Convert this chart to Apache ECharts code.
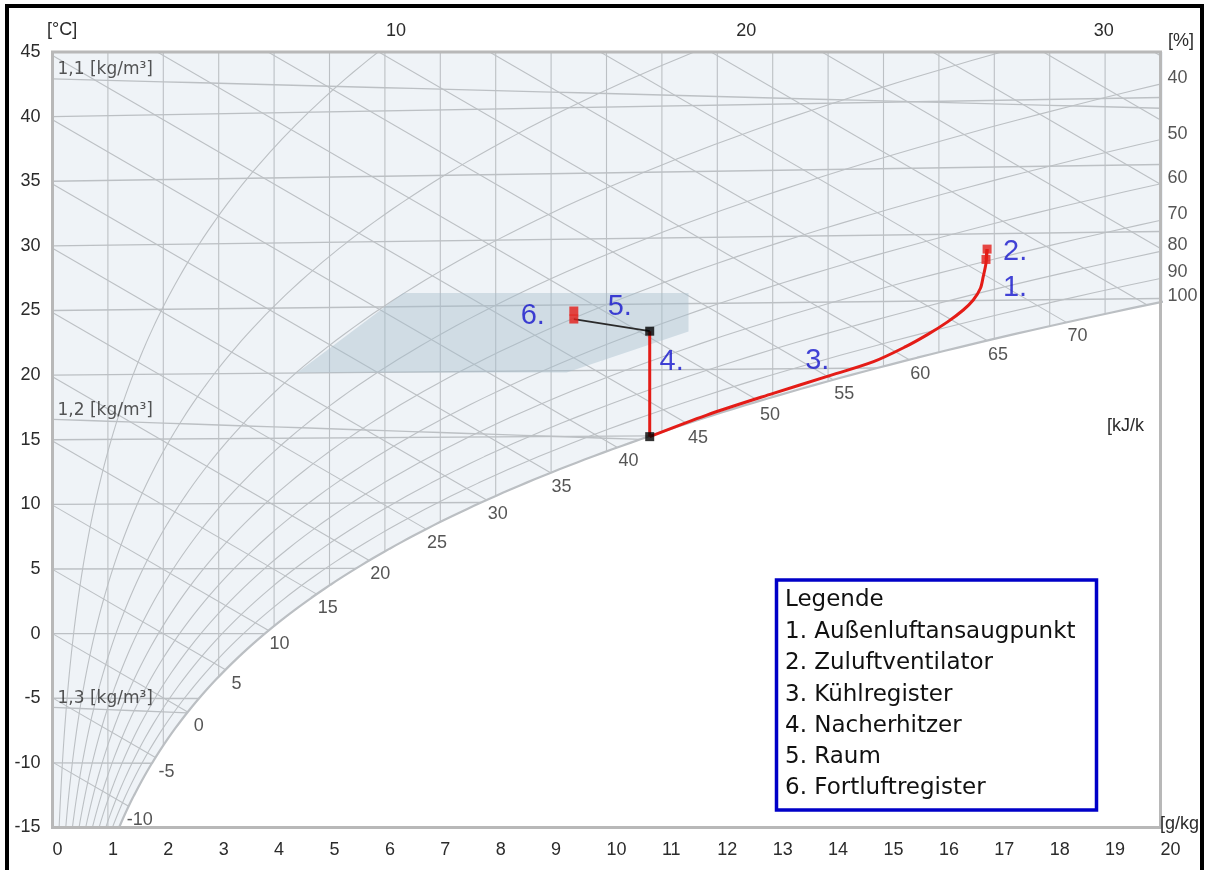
<!DOCTYPE html>
<html><head><meta charset="utf-8">
<script src="https://cdn.jsdelivr.net/npm/echarts@6/dist/echarts.min.js"></script>
<style>html,body{margin:0;padding:0;background:#fff}#c{width:1207px;height:870px}</style>
</head><body><div id="c"></div>
<script>
// ---------------- data ----------------
const pressureTicks   = [10, 20, 30];                       // top axis: vapour pressure [hPa]
const rhLevels        = [10, 20, 30, 40, 50, 60, 70, 80, 90]; // relative humidity lines [%]
const rhLabels        = [40, 50, 60, 70, 80, 90, 100];      // labels on the right edge [%]
const isotherms       = [-15, -10, -5, 0, 5, 10, 15, 20, 25, 30, 35, 40, 45];   // [°C]
const enthalpyLines   = [-10, -5, 0, 5, 10, 15, 20, 25, 30, 35, 40, 45, 50, 55, 60, 65, 70, 75, 80, 85, 90, 95];
const enthalpyLabels  = [-10, -5, 0, 5, 10, 15, 20, 25, 30, 35, 40, 45, 50, 55, 60, 65, 70]; // [kJ/kg]
const densityLines    = [1.1, 1.2, 1.3];                    // [kg/m³]
const densityLabels   = ['1,1 [kg/m³]', '1,2 [kg/m³]', '1,3 [kg/m³]'];
const moistureLines   = [1, 2, 3, 4, 5, 6, 7, 8, 9, 10, 11, 12, 13, 14, 15, 16, 17, 18, 19]; // [g/kg]

// comfort zone (x g/kg, chart temperature °C)
const comfortZone = [[4.42, 20.2], [6.33, 26.35], [11.48, 26.35], [11.48, 23.37], [9.28, 20.2]];

// process states: 1 Außenluft, 2 nach Zuluftventilator, 3 nach Kühlregister, 4 nach Nacherhitzer, 5 Raum, 6 Fortluft
const statePoints = [[16.85, 28.95], [16.87, 29.75], [10.78, 15.24], [10.78, 23.4], [9.41, 24.34], [9.41, 24.96]];
const stateNames  = ['1.', '2.', '3.', '4.', '5.', '6.'];
const coolingCurve = [
  [16.87, 29.75], [16.85, 28.65], [16.80, 27.62], [16.75, 26.72], [16.62, 25.81], [16.44, 25.04],
  [16.15, 24.10], [15.80, 23.15], [15.40, 22.20], [14.82, 21.04], [13.97, 19.88], [13.01, 18.59],
  [11.81, 16.91], [10.78, 15.24]
];
const legendTitle = 'Legende';
const legendItems = ['1. Außenluftansaugpunkt', '2. Zuluftventilator', '3. Kühlregister',
                     '4. Nacherhitzer', '5. Raum', '6. Fortluftregister'];

// ---------------- psychrometric helpers ----------------
const P = 998;          // hPa, chart pressure
const P_TOP = 1013.25;  // hPa, used for the top vapour-pressure scale
const ps = t => 6.112 * Math.exp(17.62 * t / (243.12 + t));
const tDew = pv => { const L = Math.log(pv / 6.112); return 243.12 * L / (17.62 - L); };
const xOf = pv => 622 * pv / (P - pv);
const mY = (t, xg) => t * (1.006 + 0.00186 * xg) / 1.006;
const ySat = xg => { const pv = P * xg / (622 + xg); return mY(tDew(pv), xg); };
function cross(f, a, b) { for (let i = 0; i < 60; i++) { const m = (a + b) / 2; if (f(m) > 0) a = m; else b = m; } return (a + b) / 2; }
function endOnSat(YL) { const f = x => YL(x) - ySat(x); return f(20) > 0 ? 20 : cross(f, 1e-3, 20); }
const yRho = (rho, xg) => { const x = xg / 1000; const T = P * 100 * (1 + x) / (287.05 * rho * (1 + 1.6078 * x)); return mY(T - 273.15, xg); };

const GRID_COLOR = '#bcc0c4';
const series = [];
function gridLine(data, width) {
  series.push({ type: 'line', data, showSymbol: false, symbol: 'none', silent: true, clip: true, z: 2,
    lineStyle: { color: GRID_COLOR, width: width || 1.1 } });
}

// saturation fill (area above the saturation curve)
const satData = [];
for (let t = -60; t <= 40; t += 0.25) { const xg = xOf(ps(t)); satData.push([xg, mY(t, xg)]); if (xg > 21) break; }
series.push({ type: 'line', data: satData, showSymbol: false, symbol: 'none', silent: true, clip: true, z: 1,
  lineStyle: { color: '#bbbfc3', width: 2.2 }, areaStyle: { origin: 'end', color: '#eff3f7', opacity: 1 } });

// constant moisture lines
moistureLines.forEach(xg => gridLine([[xg, ySat(xg)], [xg, 45]]));
// isotherms
isotherms.forEach(t => { const e = Math.min(20, xOf(ps(t))); gridLine([[0, t], [e, mY(t, e)]], 1.4); });
// enthalpy lines
const hLabelData = [];
enthalpyLines.forEach(h => {
  const YL = x => (h - 2.501 * x) / 1.006;
  const e = endOnSat(YL);
  gridLine([[0, YL(0)], [e, YL(e)]]);
  if (enthalpyLabels.includes(h)) hLabelData.push({ name: String(h), value: [e, YL(e)] });
});
// density lines
const rhoLabelData = [];
densityLines.forEach((rho, i) => {
  const YL = x => yRho(rho, x);
  const e = endOnSat(YL);
  const d = [];
  for (let x = 0; x < e; x += 0.5) d.push([x, YL(x)]);
  d.push([e, YL(e)]);
  gridLine(d, 1.4);
  rhoLabelData.push({ name: densityLabels[i], value: [0, YL(0)] });
});
// relative humidity lines
rhLevels.forEach(r => {
  const phi = r / 100, d = [];
  for (let t = -40; t <= 60; t += 0.5) {
    const xg = xOf(phi * ps(t)); const Y = mY(t, xg); d.push([xg, Y]);
    if (xg > 21 || Y > 47) break;
  }
  gridLine(d);
});
// RH labels at the right edge
const rhLabelData = rhLabels.map(r => {
  const pv = P * 20 / 642; const t = tDew(pv / (r / 100));
  return { name: String(r), value: [20, mY(t, 20)] };
});

// comfort zone
series.push({ type: 'custom', silent: true, z: 3, clip: true, data: [comfortZone[0]],
  renderItem: (params, api) => ({ type: 'polygon', shape: { points: comfortZone.map(p => api.coord(p)) },
    style: { fill: 'rgba(165,188,202,0.42)', stroke: null } }) });

// label series for the grid
const numFont = '"Liberation Sans", Arial, sans-serif';
series.push({ type: 'scatter', data: hLabelData, symbolSize: 0, silent: true, clip: false, z: 4,
  label: { show: true, position: 'inside', offset: [11, 14], formatter: '{b}', fontSize: 18, color: '#2b2b2b', fontFamily: numFont } });
series.push({ type: 'scatter', data: rhoLabelData, symbolSize: 0, silent: true, clip: false, z: 4,
  label: { show: true, position: 'right', distance: 5, offset: [0, -9], formatter: '{b}', fontSize: 17, color: '#2b2b2b', fontFamily: '"DejaVu Sans", sans-serif' } });
series.push({ type: 'scatter', data: rhLabelData, symbolSize: 0, silent: true, clip: false, z: 4,
  label: { show: true, position: 'right', distance: 7, offset: [0, -6], formatter: '{b}', fontSize: 18, color: '#2b2b2b', fontFamily: numFont } });

// process lines
const RED = '#e41c17';
series.push({ type: 'line', data: [statePoints[0], statePoints[1]], symbol: 'none', z: 5, lineStyle: { color: RED, width: 3 } });
series.push({ type: 'line', data: coolingCurve, symbol: 'none', smooth: 0.3, z: 5, lineStyle: { color: RED, width: 3 } });
series.push({ type: 'line', data: [statePoints[2], statePoints[3]], symbol: 'none', z: 5, lineStyle: { color: RED, width: 3 } });
series.push({ type: 'line', data: [statePoints[3], statePoints[4]], symbol: 'none', z: 5, lineStyle: { color: '#2a2a2a', width: 1.8 } });
// markers
const markerColors = [RED, RED, '#000', '#000', RED, RED];
series.push({ type: 'scatter', symbol: 'rect', symbolSize: 9, z: 6, clip: false,
  data: statePoints.map((p, i) => ({ value: p, itemStyle: { color: markerColors[i] } })) });
// blue state labels (offsets in px)
const labelAnchors = [statePoints[0], statePoints[1], coolingCurve[11], statePoints[3], statePoints[4], statePoints[5]];
const labelOffsets = [[29, 29], [28, 3], [44, -32], [22, 31], [46, -12], [-41, 5]];
series.push({ type: 'scatter', symbolSize: 0, silent: true, clip: false, z: 7,
  data: labelAnchors.map((p, i) => ({ name: stateNames[i], value: p, label: { offset: labelOffsets[i] } })),
  label: { show: true, position: 'inside', formatter: '{b}', fontSize: 29, color: '#1414cc', fontFamily: numFont } });

// ---------------- graphics: units, legend box, frame ----------------
const unitFont = '18px "Liberation Sans", Arial, sans-serif';
const graphic = [
  { type: 'text', x: 47, y: 30, z: 50, style: { text: '[°C]', font: unitFont, fill: '#2b2b2b', verticalAlign: 'middle' } },
  { type: 'text', x: 1168, y: 41, z: 50, style: { text: '[%]', font: unitFont, fill: '#2b2b2b', verticalAlign: 'middle' } },
  { type: 'text', x: 1107, y: 426, z: 50, style: { text: '[kJ/k', font: unitFont, fill: '#2b2b2b', verticalAlign: 'middle' } },
  { type: 'text', x: 1160, y: 824, z: 50, style: { text: '[g/kg', font: unitFont, fill: '#2b2b2b', verticalAlign: 'middle' } },
  { type: 'rect', z: 60, shape: { x: 776.5, y: 580, width: 320, height: 230 }, style: { fill: '#fff', stroke: '#0000c8', lineWidth: 3.5 } },
  { type: 'text', x: 785, y: 600, z: 61, style: { text: legendTitle, font: '23px "DejaVu Sans", sans-serif', fill: '#111', verticalAlign: 'middle' } }
];
legendItems.forEach((s, i) => graphic.push({ type: 'text', x: 785, y: 632 + i * 31.3, z: 61,
  style: { text: s, font: '23px "DejaVu Sans", sans-serif', fill: '#111', verticalAlign: 'middle' } }));
graphic.push({ type: 'rect', z: 100, shape: { x: 7, y: 6, width: 1195, height: 880 }, style: { fill: 'none', stroke: '#000', lineWidth: 4 } });

const xForPv = pv => 622 * pv / (P_TOP - pv);
const option = {
  animation: false,
  backgroundColor: '#fff',
  grid: { left: 52.5, top: 52, right: 46.5, bottom: 42.5, show: true, z: 20, backgroundColor: 'rgba(0,0,0,0)',
          borderColor: '#b8b8b8', borderWidth: 3, containLabel: false, outerBoundsMode: 'none' },
  xAxis: [
    { type: 'value', min: 0, max: 20, interval: 1, position: 'bottom', axisLine: { show: false }, axisTick: { show: false },
      splitLine: { show: false }, axisLabel: { align: 'left', margin: 14, fontSize: 18, color: '#2b2b2b', fontFamily: numFont, showMinLabel: true, showMaxLabel: true } },
    { type: 'value', min: 0, max: 20, position: 'top', axisLine: { show: false }, axisTick: { show: false }, splitLine: { show: false },
      axisLabel: { customValues: pressureTicks.map(xForPv), formatter: v => String(Math.round(P_TOP * v / (622 + v))),
                   margin: 12, fontSize: 18, color: '#2b2b2b', fontFamily: numFont } }
  ],
  yAxis: { type: 'value', min: -15, max: 45, interval: 5, axisLine: { show: false }, axisTick: { show: false }, splitLine: { show: false },
           axisLabel: { margin: 12, fontSize: 18, color: '#2b2b2b', fontFamily: numFont, showMinLabel: true, showMaxLabel: true } },
  series,
  graphic
};
const chart = echarts.init(document.getElementById('c'), null, { renderer: 'canvas' });
chart.setOption(option);
</script></body></html>
